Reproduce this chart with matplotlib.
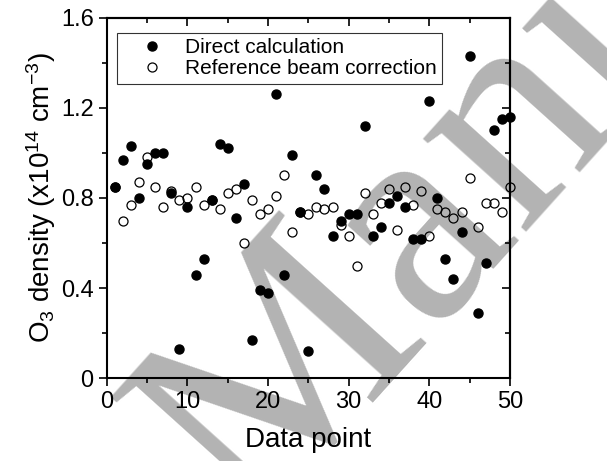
import numpy as np
import matplotlib
matplotlib.use("Agg")
import matplotlib.pyplot as plt
from matplotlib.ticker import MultipleLocator

plt.rcParams['font.family'] = ['Liberation Sans', 'DejaVu Sans']
plt.rcParams['mathtext.fontset'] = 'custom'
plt.rcParams['mathtext.rm'] = 'Liberation Sans'
plt.rcParams['mathtext.it'] = 'Liberation Sans:italic'

points = np.arange(1, 51)
direct = [0.85, 0.97, 1.03, 0.80, 0.95, 1.00, 1.00, 0.82, 0.13, 0.76,
          0.46, 0.53, 0.79, 1.04, 1.02, 0.71, 0.86, 0.17, 0.39, 0.38,
          1.26, 0.46, 0.99, 0.74, 0.12, 0.90, 0.84, 0.63, 0.70, 0.73,
          0.73, 1.12, 0.63, 0.67, 0.78, 0.81, 0.76, 0.62, 0.62, 1.23,
          0.80, 0.53, 0.44, 0.65, 1.43, 0.29, 0.51, 1.10, 1.15, 1.16]
reference = [0.85, 0.70, 0.77, 0.87, 0.98, 0.85, 0.76, 0.83, 0.79, 0.80,
             0.85, 0.77, 0.79, 0.75, 0.82, 0.84, 0.60, 0.79, 0.73, 0.75,
             0.81, 0.90, 0.65, 0.74, 0.73, 0.76, 0.75, 0.76, 0.68, 0.63,
             0.50, 0.82, 0.73, 0.78, 0.84, 0.66, 0.85, 0.77, 0.83, 0.63,
             0.75, 0.74, 0.71, 0.74, 0.89, 0.67, 0.78, 0.78, 0.74, 0.85]

fig = plt.figure(figsize=(6.07, 4.61), dpi=100)
ax = fig.add_axes([0.176, 0.180, 0.664, 0.781])
ax.set_facecolor('none')

# watermark behind the data
fig.text(0.41, -0.15, 'Manuscript', rotation=48, rotation_mode='anchor',
         ha='left', va='baseline', fontsize=218, color='#b3b3b3',
         family='Liberation Serif', zorder=-1)

ax.plot(points, direct, 'o', color='black', markersize=6.5,
        label='Direct calculation', clip_on=False)
ax.plot(points, reference, 'o', markerfacecolor='none', markeredgecolor='black',
        markersize=6.5, markeredgewidth=0.9, label='Reference beam correction',
        clip_on=False)

ax.set_xlim(0, 50)
ax.set_ylim(0, 1.6)
ax.xaxis.set_major_locator(MultipleLocator(10))
ax.xaxis.set_minor_locator(MultipleLocator(5))
ax.yaxis.set_minor_locator(MultipleLocator(0.2))
ax.set_yticks([0, 0.4, 0.8, 1.2, 1.6])
ax.set_yticklabels(['0', '0.4', '0.8', '1.2', '1.6'])

ax.tick_params(which='both', direction='out', width=1.2, labelsize=17,
               top=False, right=False)
ax.tick_params(which='major', length=6)
ax.tick_params(which='minor', length=3.5)
ax2 = ax.secondary_xaxis('top')
ax2.xaxis.set_major_locator(MultipleLocator(10))
ax2.xaxis.set_minor_locator(MultipleLocator(5))
ax2.tick_params(which='both', direction='in', width=1.2, labeltop=False)
ax2.tick_params(which='major', length=6)
ax2.tick_params(which='minor', length=3.5)
ay2 = ax.secondary_yaxis('right')
ay2.yaxis.set_major_locator(MultipleLocator(0.4))
ay2.yaxis.set_minor_locator(MultipleLocator(0.2))
ay2.tick_params(which='both', direction='in', width=1.2, labelright=False)
ay2.tick_params(which='major', length=6)
ay2.tick_params(which='minor', length=3.5)
for sp in ax.spines.values():
    sp.set_linewidth(1.5)
for s in [ax2, ay2]:
    for sp in s.spines.values():
        sp.set_linewidth(1.5)

ax.set_xlabel('Data point', fontsize=20, labelpad=10)
ax.set_ylabel(r'O$_\mathregular{3}$ density (x10$^\mathregular{14}$ cm$^\mathregular{-3}$)',
              fontsize=20, labelpad=2)

leg = ax.legend(loc='upper left', bbox_to_anchor=(0.025, 0.958), fontsize=15,
                frameon=True, fancybox=False, edgecolor='black',
                handletextpad=0.1, borderpad=0.25, labelspacing=0.1,
                handlelength=2.9, borderaxespad=0)
leg.get_frame().set_linewidth(0.8)

fig.savefig('out.png', dpi=100)
